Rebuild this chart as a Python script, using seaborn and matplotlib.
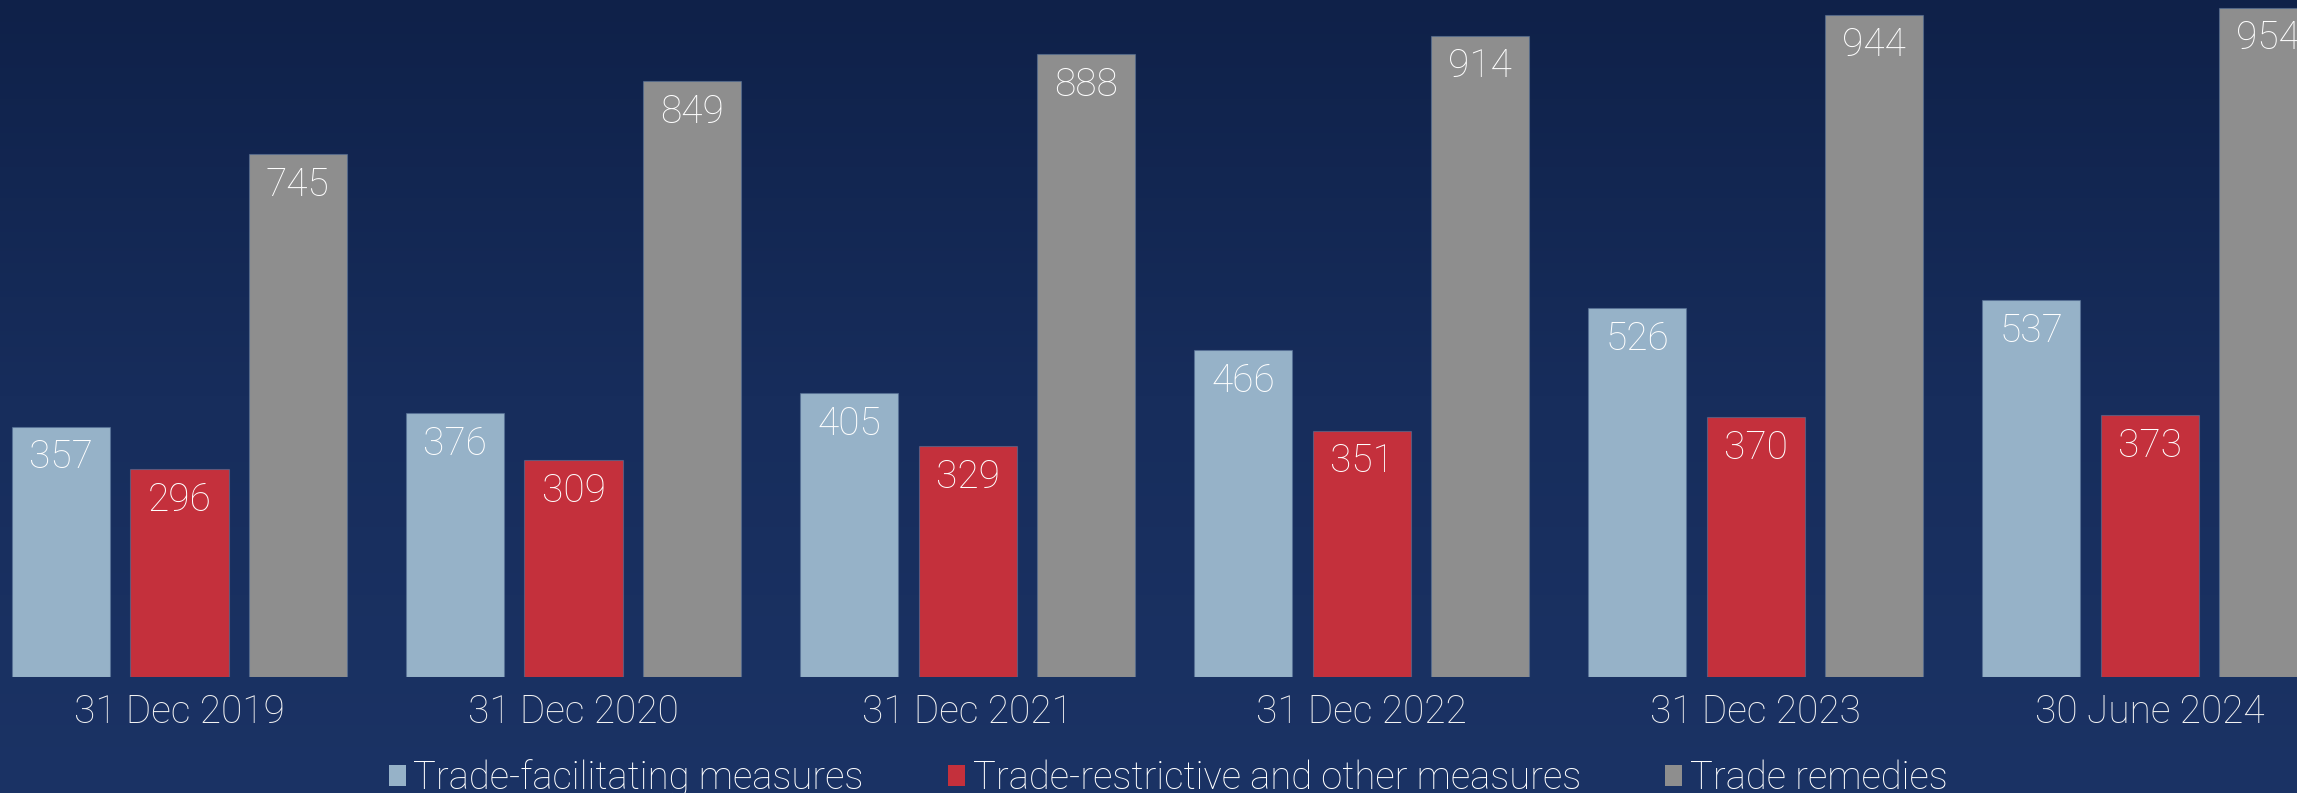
import numpy as np
import pandas as pd
import matplotlib
matplotlib.use("Agg")
import matplotlib.pyplot as plt
from matplotlib.patches import Patch
from matplotlib.colors import LinearSegmentedColormap
import seaborn as sns

# Data
dates = ["31 Dec 2019", "31 Dec 2020", "31 Dec 2021", "31 Dec 2022", "31 Dec 2023", "30 June 2024"]
series = ["Trade-facilitating measures", "Trade-restrictive and other measures", "Trade remedies"]
facilitating = [357, 376, 405, 466, 526, 537]
restrictive = [296, 309, 329, 351, 370, 373]
remedies = [745, 849, 888, 914, 944, 954]
colors = ["#96b2c8", "#c4303c", "#8e8e8e"]

df = pd.DataFrame({
    "date": dates * 3,
    "type": [series[0]] * 6 + [series[1]] * 6 + [series[2]] * 6,
    "count": facilitating + restrictive + remedies,
})

sns.set_theme(style="white")
plt.rcParams["font.family"] = ["Roboto", "DejaVu Sans"]
FONT_W = "light"

W, H = 2297, 793
fig = plt.figure(figsize=(W / 100, H / 100), dpi=100)

# Navy gradient backdrop
bg = fig.add_axes([0, 0, 1, 1], zorder=-10)
cmap = LinearSegmentedColormap.from_list("navy", ["#0f2149", "#172d5c", "#1b3365"])
bg.imshow(np.linspace(0, 1, 256).reshape(-1, 1), aspect="auto", cmap=cmap,
          extent=[0, 1, 0, 1], origin="upper")
bg.set_axis_off()

base_px = 677
ax = fig.add_axes([0, 1 - base_px / H, 1, base_px / H])
ax.set_facecolor("none")

sns.barplot(data=df, x="date", y="count", hue="type", hue_order=series,
            palette=colors, width=0.9, gap=0.17, saturation=1,
            edgecolor=(0.35, 0.45, 0.6, 0.6), linewidth=0.8,
            legend=False, ax=ax)

ax.set_xlim(-0.4556, 5.374)
ax.set_ylim(0, base_px / 0.7016)

for cont in ax.containers:
    for rect in cont:
        v = rect.get_height()
        ax.annotate(f"{v:.0f}", xy=(rect.get_x() + rect.get_width() / 2, v),
                    xytext=(0, -30), textcoords="offset points",
                    ha="center", va="baseline", color="white",
                    fontsize=28, fontweight=FONT_W)

ax.set_xlabel("")
ax.set_ylabel("")
ax.set_yticks([])
ax.tick_params(axis="x", length=0, pad=12, labelsize=28, labelcolor="#f2f2f2")
for lbl in ax.get_xticklabels():
    lbl.set_fontweight(FONT_W)
for s in ax.spines.values():
    s.set_visible(False)

handles = [Patch(facecolor=c, edgecolor="none") for c in colors]
fig.legend(handles, series, loc="center", ncol=3,
           bbox_to_anchor=(1168 / W, 1 - 778 / H), frameon=False,
           prop={"size": 27.5, "weight": FONT_W}, labelcolor="white",
           handlelength=0.45, handleheight=0.45, handletextpad=0.2,
           columnspacing=2.2, borderpad=0, borderaxespad=0)

fig.savefig("out.png", dpi=100)
